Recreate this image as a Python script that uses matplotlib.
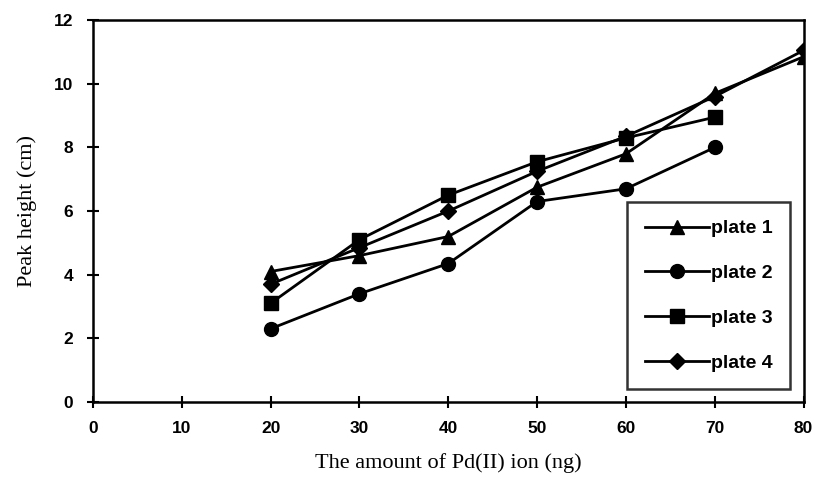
import matplotlib
matplotlib.use("Agg")
import matplotlib.pyplot as plt

x = [20, 30, 40, 50, 60, 70, 80]
plate1 = [4.1, 4.6, 5.2, 6.75, 7.8, 9.7, 10.85]
plate2 = [2.3, 3.4, 4.35, 6.3, 6.7, 8.0]
plate3 = [3.1, 5.1, 6.5, 7.55, 8.3, 8.95]
plate4 = [3.7, 4.85, 6.0, 7.25, 8.35, 9.6, 11.05]
labels = ["plate 1", "plate 2", "plate 3", "plate 4"]
xticks = [0, 10, 20, 30, 40, 50, 60, 70, 80]
yticks = [0, 2, 4, 6, 8, 10, 12]

fig = plt.figure(figsize=(8.15, 4.92), dpi=100)
ax = fig.add_axes([0.114, 0.183, 0.872, 0.776])

kw = dict(color="black", linewidth=2)
ax.plot(x[:len(plate1)], plate1, marker="^", markersize=10, label=labels[0], **kw)
ax.plot(x[:len(plate2)], plate2, marker="o", markersize=10, label=labels[1], **kw)
ax.plot(x[:len(plate3)], plate3, marker="s", markersize=10, label=labels[2], **kw)
ax.plot(x[:len(plate4)], plate4, marker="D", markersize=8, label=labels[3], **kw)

ax.set_xlim(0, 80)
ax.set_ylim(0, 12)
ax.set_xticks(xticks)
ax.set_yticks(yticks)
ax.tick_params(direction="inout", length=8, width=1.5, labelsize=12.5, pad=10)
for lab in ax.get_xticklabels() + ax.get_yticklabels():
    lab.set_fontweight("bold")
    lab.set_family("Liberation Sans")
for sp in ax.spines.values():
    sp.set_linewidth(1.8)

ax.set_xlabel("The amount of Pd(II) ion (ng)", family="Liberation Serif", fontsize=16, labelpad=12)
ax.set_ylabel("Peak height (cm)", family="Liberation Serif", fontsize=16, labelpad=12)

leg = ax.legend(loc="upper left", bbox_to_anchor=(0.752, 0.523), frameon=True, fancybox=False,
                edgecolor="black", handlelength=3.3, handletextpad=0.1, labelspacing=1.4,
                borderpad=0.9, borderaxespad=0.0,
                prop={"family": "Liberation Sans", "weight": "bold", "size": 14})
leg.get_frame().set_linewidth(1.8)

fig.savefig("out.png", dpi=100)
